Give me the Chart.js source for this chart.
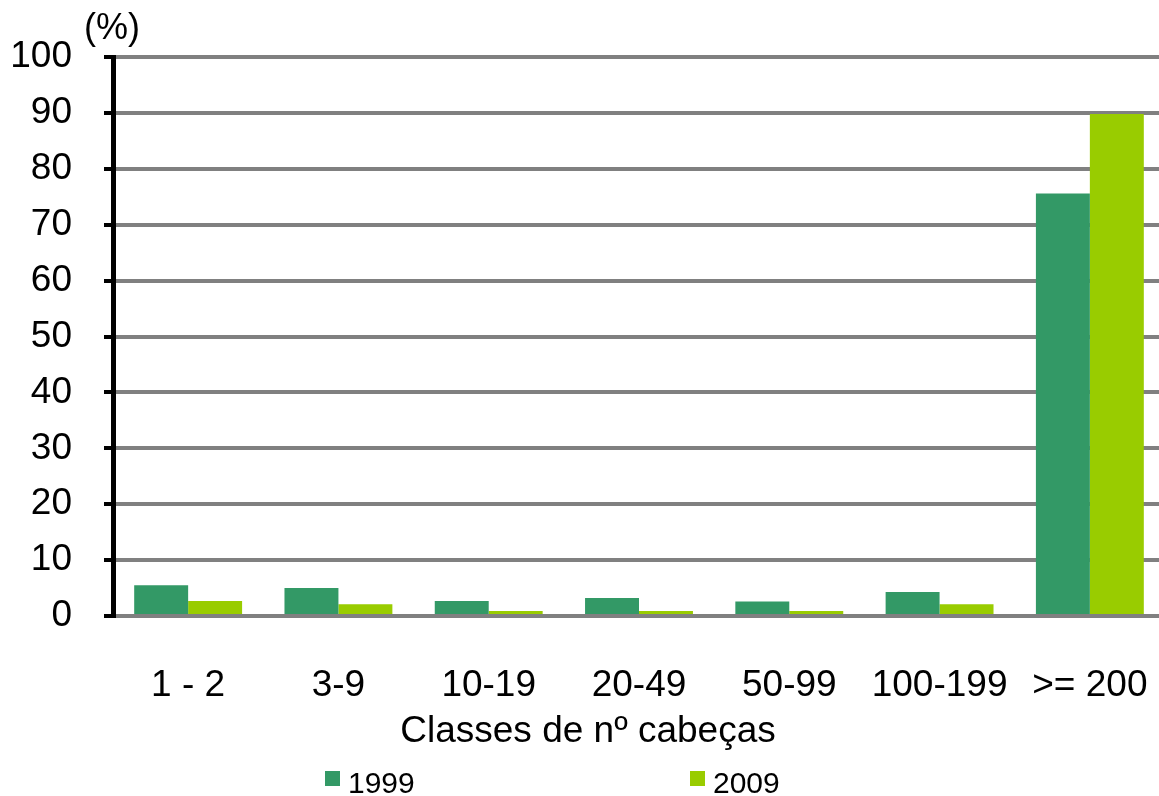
<!DOCTYPE html>
<html>
<head>
<meta charset="utf-8">
<script src="https://cdn.jsdelivr.net/npm/chart.js@4.4.1/dist/chart.umd.min.js"></script>
<style>
  html, body { margin: 0; padding: 0; background: #fff; overflow: hidden; }
  #wrap { width: 1166px; height: 796px; }
</style>
</head>
<body>
<div id="wrap"><canvas id="c" width="1166" height="796"></canvas></div>
<script>
const categories = ['1 - 2', '3-9', '10-19', '20-49', '50-99', '100-199', '>= 200'];
const series1999 = [5.5, 5.0, 2.7, 3.2, 2.6, 4.3, 75.6];
const series2009 = [2.7, 2.1, 0.9, 0.9, 0.9, 2.1, 89.8];
const seriesLabels = ['1999', '2009'];
const seriesColors = ['#339966', '#99CC00'];
const yTicks = [0, 10, 20, 30, 40, 50, 60, 70, 80, 90, 100];
const yUnit = '(%)';
const xTitle = 'Classes de nº cabeças';

const FONT = '"Liberation Sans", Arial, sans-serif';

const extraText = {
  id: 'extraText',
  afterDraw(chart) {
    const ctx = chart.ctx;
    ctx.save();
    ctx.fillStyle = '#000';
    ctx.textBaseline = 'middle';
    ctx.font = '36px ' + FONT;
    ctx.textAlign = 'center';
    ctx.fillText(yUnit, 112, 29);
    ctx.font = '37px ' + FONT;
    ctx.fillText(xTitle, 588, 732);
    const legendX = [325, 690];
    ctx.font = '30px ' + FONT;
    ctx.textAlign = 'left';
    seriesLabels.forEach((lab, i) => {
      ctx.fillStyle = seriesColors[i];
      ctx.fillRect(legendX[i], 771, 15, 15);
      ctx.fillStyle = '#000';
      ctx.fillText(lab, legendX[i] + 23, 785);
    });
    ctx.restore();
  }
};

new Chart(document.getElementById('c'), {
  type: 'bar',
  data: {
    labels: categories,
    datasets: [
      { label: seriesLabels[0], data: series1999, backgroundColor: seriesColors[0] },
      { label: seriesLabels[1], data: series2009, backgroundColor: seriesColors[1] }
    ]
  },
  options: {
    responsive: false,
    animation: false,
    layout: { padding: { top: 57, left: 0, right: 1, bottom: 0 } },
    datasets: { bar: { categoryPercentage: 0.718, barPercentage: 1.0 } },
    plugins: { legend: { display: false }, tooltip: { enabled: false } },
    scales: {
      x: {
        grid: { display: false, drawTicks: true, tickLength: 48 },
        border: { display: false },
        ticks: { color: '#000', font: { family: FONT, size: 37 }, padding: 0, maxRotation: 0, autoSkip: false },
        afterFit(scale) { scale.height = 180; }
      },
      y: {
        min: 0, max: 100,
        afterBuildTicks(scale) { scale.ticks = yTicks.map(v => ({ value: v })); },
        grid: { color: '#808080', lineWidth: 4, tickColor: '#000', tickLength: 9 },
        border: { display: true, color: '#000', width: 5 },
        ticks: { color: '#000', font: { family: FONT, size: 37 }, padding: 32 },
        afterFit(scale) { scale.width = 113; }
      }
    }
  },
  plugins: [extraText]
});
</script>
</body>
</html>
